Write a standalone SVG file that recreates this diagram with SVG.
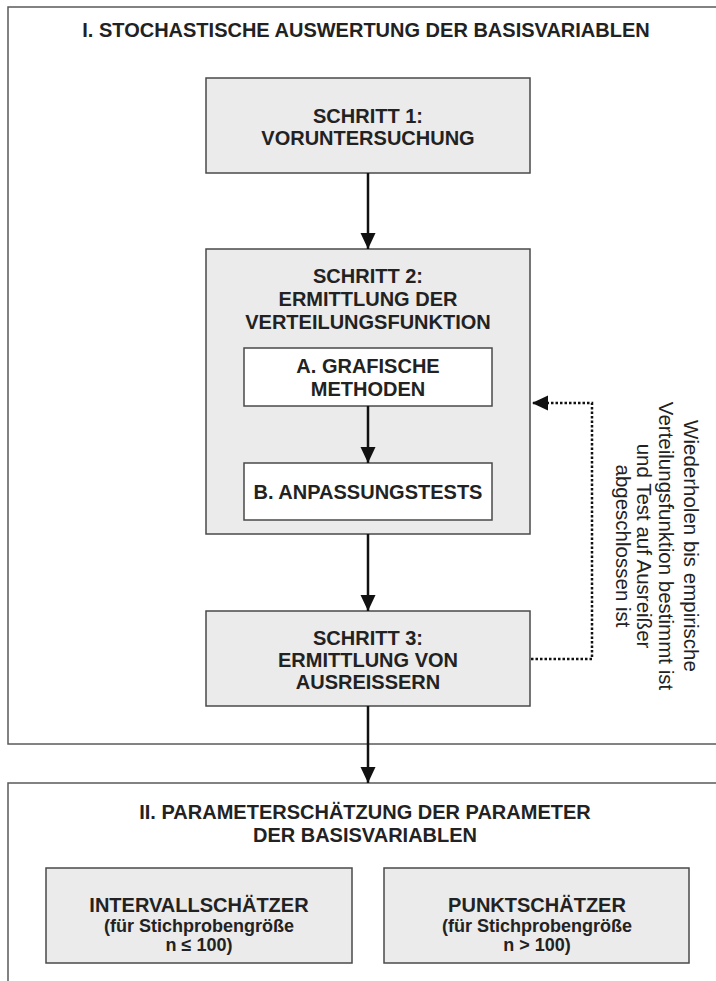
<svg xmlns="http://www.w3.org/2000/svg" width="716" height="981" viewBox="0 0 716 981">
<style>
.frame{fill:#fff;stroke:#5a5a5a;stroke-width:1.5}
.step{fill:#ebebeb;stroke:#4a4a4a;stroke-width:1.5}
.inner{fill:#fff;stroke:#4a4a4a;stroke-width:1.5}
.t{font-family:"Liberation Sans",Arial,sans-serif;font-weight:bold;font-size:20px;fill:#222;text-anchor:middle}
.s{font-size:18px}
.r{font-family:"Liberation Sans",Arial,sans-serif;font-size:20.5px;fill:#222;text-anchor:middle}
.arr{stroke:#111;stroke-width:2.5;fill:none}
.dot{stroke:#111;stroke-width:2.5;fill:none;stroke-dasharray:2.5 2}
</style>
<defs>
<marker id="ah" markerUnits="userSpaceOnUse" markerWidth="16" markerHeight="16" refX="16" refY="7.5" orient="auto">
<path d="M0,0 L16,7.5 L0,15 Z" fill="#111"/>
</marker>
</defs>
<rect width="716" height="981" fill="#fff"/>
<g id="section1">
<rect class="frame" x="8" y="7" width="720" height="737"/>
<text class="t" x="366" y="37">I. STOCHASTISCHE AUSWERTUNG DER BASISVARIABLEN</text>
</g>
<g id="section2">
<rect class="frame" x="8" y="783" width="720" height="220"/>
<text class="t" x="365" y="819">II. PARAMETERSCHÄTZUNG DER PARAMETER</text>
<text class="t" x="365" y="842">DER BASISVARIABLEN</text>
</g>
<g id="step1">
<rect class="step" x="206" y="78" width="324" height="95"/>
<text class="t" x="368" y="123">SCHRITT 1:</text>
<text class="t" x="368" y="145">VORUNTERSUCHUNG</text>
</g>
<g id="step2">
<rect class="step" x="206" y="249" width="324" height="285"/>
<text class="t" x="368" y="283">SCHRITT 2:</text>
<text class="t" x="368" y="306">ERMITTLUNG DER</text>
<text class="t" x="368" y="329">VERTEILUNGSFUNKTION</text>
</g>
<g id="stepA">
<rect class="inner" x="244" y="348" width="248" height="58"/>
<text class="t" x="368" y="373">A. GRAFISCHE</text>
<text class="t" x="368" y="396">METHODEN</text>
</g>
<g id="stepB">
<rect class="inner" x="244" y="463" width="248" height="57"/>
<text class="t" x="368" y="499">B. ANPASSUNGSTESTS</text>
</g>
<g id="step3">
<rect class="step" x="206" y="611" width="324" height="95"/>
<text class="t" x="368" y="645">SCHRITT 3:</text>
<text class="t" x="368" y="667">ERMITTLUNG VON</text>
<text class="t" x="368" y="689">AUSREISSERN</text>
</g>
<g id="intervall">
<rect class="step" x="46" y="868" width="306" height="95"/>
<text class="t" x="199" y="912">INTERVALLSCHÄTZER</text>
<text class="t s" x="199" y="932">(für Stichprobengröße</text>
<text class="t s" x="199" y="951">n ≤ 100)</text>
</g>
<g id="punkt">
<rect class="step" x="384" y="868" width="305" height="95"/>
<text class="t" x="537" y="912">PUNKTSCHÄTZER</text>
<text class="t s" x="537" y="932">(für Stichprobengröße</text>
<text class="t s" x="537" y="951">n &gt; 100)</text>
</g>
<g id="note" transform="translate(656,546) rotate(90)">
<text class="r" x="0" y="-28">Wiederholen bis empirische</text>
<text class="r" x="0" y="-3">Verteilungsfunktion bestimmt ist</text>
<text class="r" x="0" y="19">und Test auf Ausreißer</text>
<text class="r" x="0" y="40">abgeschlossen ist</text>
</g>
<g id="connectors">
<line class="arr" x1="368" y1="173" x2="368" y2="249" marker-end="url(#ah)"/>
<line class="arr" x1="368" y1="406" x2="368" y2="463" marker-end="url(#ah)"/>
<line class="arr" x1="368" y1="534" x2="368" y2="611" marker-end="url(#ah)"/>
<line class="arr" x1="368" y1="706" x2="368" y2="783" marker-end="url(#ah)"/>
<path class="dot" d="M531,659 H592 V403 H532" marker-end="url(#ah)"/>
</g>
</svg>
